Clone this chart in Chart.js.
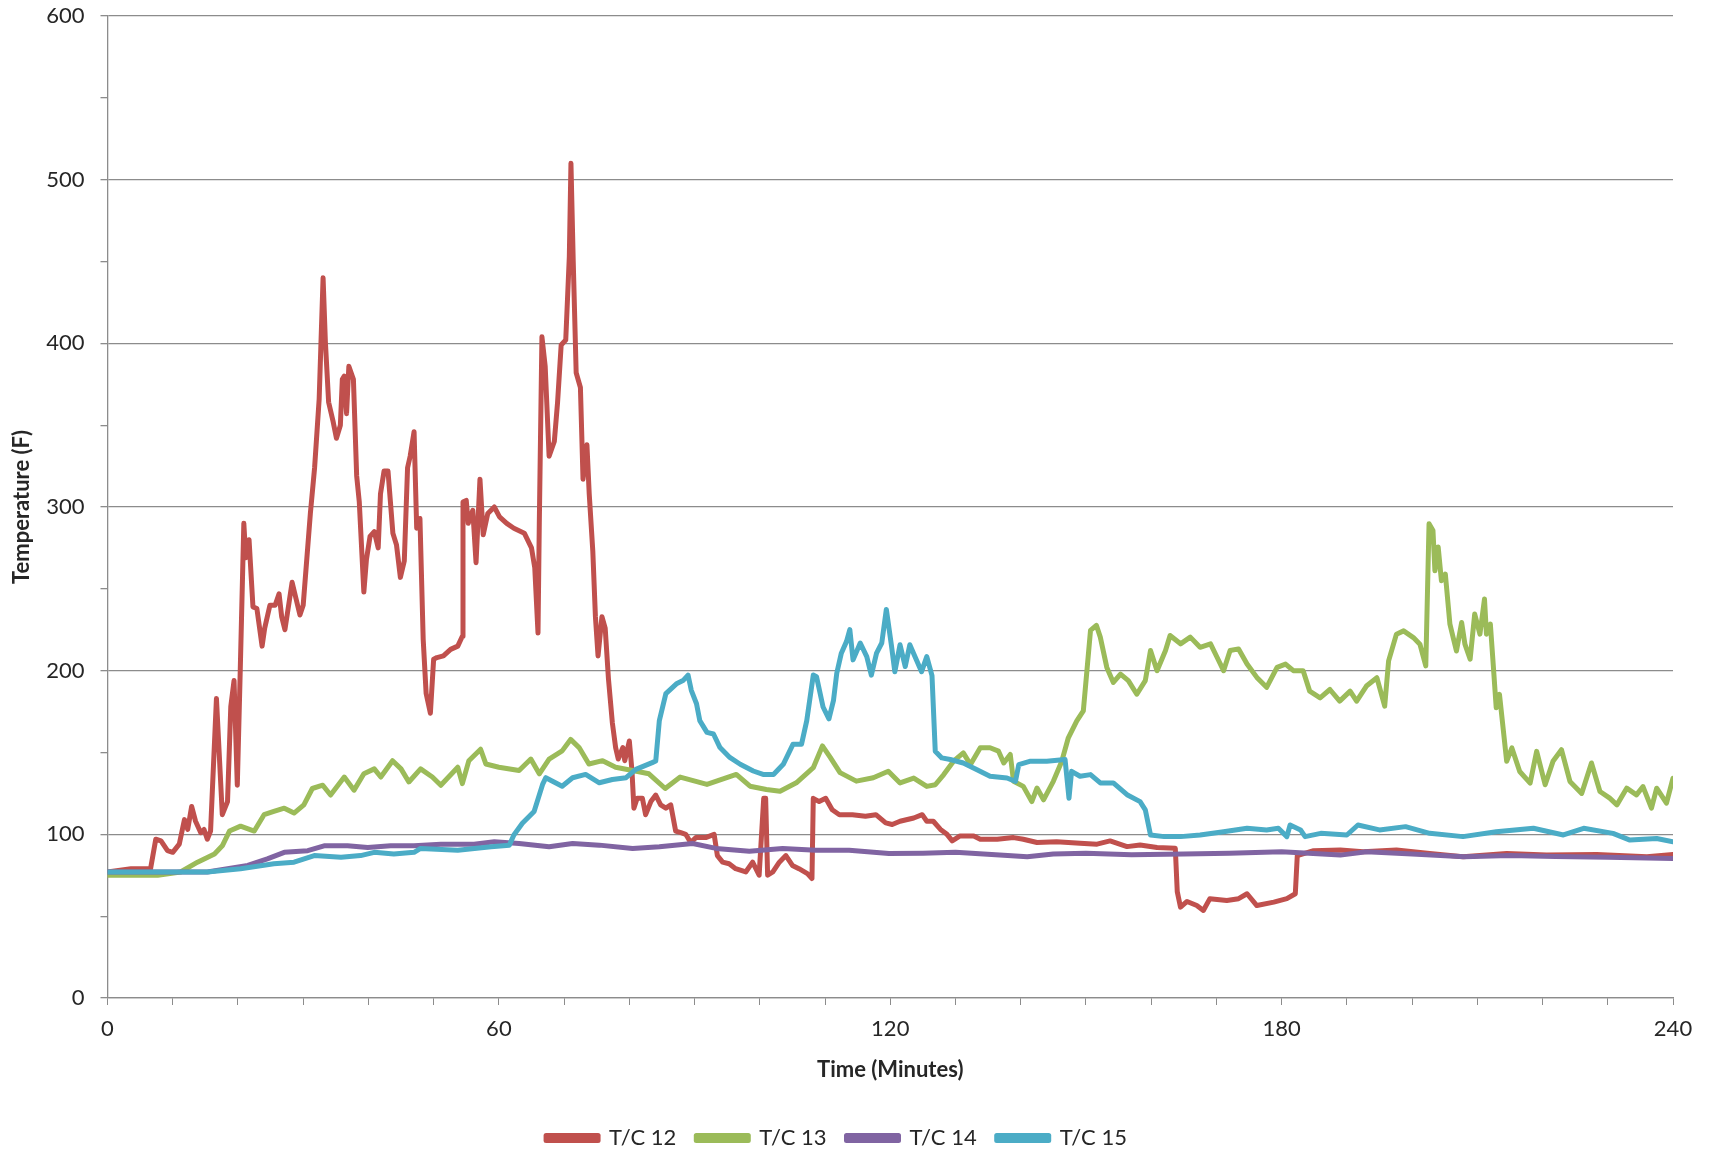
<!DOCTYPE html>
<html>
<head>
<meta charset="utf-8">
<title>T/C 12-15 Temperature</title>
<script src="https://cdn.jsdelivr.net/npm/chart.js@4"></script>
<style>
  html, body { margin: 0; padding: 0; background: #fff; }
  #wrap { width: 1712px; height: 1153px; position: relative; }
</style>
</head>
<body>
<div id="wrap"><canvas id="chart"></canvas></div>
<script>
// values (minutes, deg F)
const seriesNames = ['T/C 12', 'T/C 13', 'T/C 14', 'T/C 15'];
const seriesColors = ['#C0504D', '#9BBB59', '#8064A2', '#4BACC6'];

const tc12Minutes = [0, 3.6, 6.6, 7.4, 8.2, 9.2, 10, 11, 11.8, 12.3, 12.9, 13.5, 14.3, 14.8, 15.3, 15.8, 16.7, 17.6, 18.4, 18.9, 19.4, 19.9, 20.35, 20.9, 21.2, 21.7, 22.3, 22.9, 23.7, 24.1, 24.9, 25.7, 26.3, 26.7, 27.2, 28.3, 29.5, 30, 31.1, 31.75, 32.45, 32.7, 33.05, 33.4, 33.9, 34.6, 35.1, 35.7, 36, 36.3, 36.65, 37, 37.7, 38.2, 38.6, 39.3, 39.7, 40.25, 40.9, 41.5, 41.85, 42.4, 43, 43.75, 44.3, 44.9, 45.5, 46, 46.4, 47, 47.4, 47.9, 48.4, 48.85, 49.5, 50, 50.5, 51.5, 52.6, 53.7, 54.4, 54.5, 55, 55.3, 56, 56.5, 57.1, 57.6, 58.3, 59.3, 60.1, 61.2, 62.3, 63.9, 65, 65.5, 66, 66.2, 66.6, 67.1, 67.7, 68.5, 69, 69.55, 70.25, 70.8, 71.05, 71.4, 71.85, 72.5, 72.9, 73.5, 73.85, 74.4, 74.8, 75.2, 75.8, 76.3, 76.8, 77.4, 77.9, 78.3, 79, 79.3, 80, 80.4, 80.7, 81.2, 82, 82.5, 83.3, 84.05, 84.8, 85.6, 86.35, 87.1, 87.9, 88.65, 89.4, 90.2, 91.7, 93, 93.5, 94.3, 95.3, 96.3, 97.85, 98.9, 99.9, 100.6, 100.9, 101.2, 102, 103, 104, 105, 106, 107.3, 108, 108.2, 109.1, 110.1, 111.1, 112.2, 114.2, 116.2, 117.8, 119.3, 120.3, 121.5, 123.6, 124.9, 125.6, 126.6, 127.7, 128.7, 129.5, 130.7, 132.8, 133.8, 136.4, 138.9, 140.4, 142.5, 145.5, 149.1, 151.7, 153.7, 156.3, 158.3, 160.9, 163.7, 164, 164.5, 165.5, 167, 168, 169, 171.6, 173.4, 174.7, 176.2, 178.8, 180.8, 182.1, 182.4, 184.9, 189, 192.5, 197.6, 202.7, 207.8, 214.5, 220.6, 228.3, 236, 240];
const tc12Temps = [77, 79, 79, 97, 96, 90, 89, 94, 109, 103, 117, 108, 101, 103, 97, 102, 183, 112, 120, 178, 194, 130, 200, 290, 269, 280, 239, 238, 215, 226, 240, 240, 247, 233, 225, 254, 234, 240, 296, 324, 366, 397, 440, 401, 364, 352, 342, 350, 378, 380, 357, 386, 378, 319, 303, 248, 268, 282, 285, 275, 308, 322, 322, 284, 277, 257, 267, 324, 331, 346, 287, 293, 219, 186, 174, 207, 208, 209, 213, 215, 221, 303, 304, 290, 298, 266, 317, 283, 296, 300, 294, 290, 287, 284, 275, 263, 223, 291, 404, 386, 331, 340, 364, 399, 402, 453, 510, 450, 382, 373, 317, 338, 308, 273, 233, 209, 233, 226, 195, 168, 153, 146, 153, 145, 157, 139, 116, 122, 122, 112, 120, 124, 118, 116, 118, 102, 101, 100, 95, 98, 98, 100, 87, 83, 82, 79, 77, 83, 75, 122, 122, 75, 77, 83, 87, 81, 79, 76, 73, 122, 120, 122, 115, 112, 112, 111, 112, 107, 106, 108, 110, 112, 108, 108, 103, 100, 96, 99, 99, 97, 97, 98, 97, 95, 95.5, 94.5, 94, 96, 92.5, 93.5, 92, 91.5, 65, 55.5, 59, 56.5, 53.5, 60.7, 59.6, 60.7, 63.7, 56.5, 58.6, 60.7, 63.7, 87, 90, 90.4, 89.4, 90.4, 88.3, 86.3, 88.3, 87.3, 87.7, 86.3, 87.7];

const tc13Minutes = [0, 7.7, 11.2, 13.8, 16.4, 17.6, 18.7, 20.4, 22.5, 24, 25.5, 27.1, 28.6, 30.1, 31.4, 33, 34.2, 36.3, 37.8, 39.3, 40.9, 41.9, 43.7, 45, 46.2, 48, 49.8, 51.1, 53.7, 54.4, 55.4, 57.2, 58, 60, 63.1, 64.9, 66.2, 67.7, 69.7, 71, 72.3, 73.8, 75.9, 77.9, 80.5, 83, 85.5, 87.8, 91.9, 96.4, 98.5, 101, 103.1, 105.6, 108.2, 109.6, 110.8, 112.3, 114.8, 117.4, 119.7, 121.5, 123.6, 125.6, 126.9, 128.2, 129.7, 131.2, 132.3, 133.8, 135.3, 136.6, 137.4, 138.4, 138.9, 140.4, 141.7, 142.5, 143.5, 145, 146.3, 147.3, 148.6, 149.6, 150.7, 151.6, 152.2, 153.2, 154.2, 155.3, 156.5, 157.8, 159.1, 159.9, 160.9, 162.2, 162.9, 164.5, 166, 167.5, 169.1, 170.1, 171.1, 172.1, 173.4, 174.7, 176.2, 177.7, 179.3, 180.6, 181.8, 183.3, 184.3, 185.9, 187.4, 188.9, 190.5, 191.5, 193, 194.6, 195.8, 196.4, 197.6, 198.7, 200.2, 201.2, 202.1, 202.6, 203.2, 203.5, 204, 204.5, 205.1, 205.8, 206.8, 207.6, 208.1, 208.9, 209.6, 210.4, 211.1, 211.4, 212, 212.4, 212.9, 213.4, 214.5, 215.3, 216.5, 218.1, 219.1, 220.4, 221.6, 222.9, 224.2, 226, 227.5, 228.8, 230.3, 231.4, 232.9, 234.4, 235.4, 236.7, 237.5, 239, 240];
const tc13Temps = [75, 75, 77, 83, 88, 93, 102, 105, 102, 112, 114, 116, 113, 118, 128, 130, 124, 135, 127, 137, 140, 135, 145, 140, 132, 140, 135, 130, 141, 131, 145, 152, 143, 141, 139, 146, 137, 146, 151, 158, 153, 143, 145, 141, 139, 137, 128, 135, 130.5, 136.6, 129.4, 127.4, 126.3, 131.5, 140.7, 154, 147, 137.7, 132.5, 134.6, 138.5, 131.4, 134.4, 129.3, 130.3, 136.5, 144.7, 149.8, 142.6, 152.9, 152.9, 150.8, 143.6, 148.8, 132.4, 129.3, 120, 128.3, 121.1, 132.4, 144.7, 159, 169.3, 175.4, 224.6, 227.7, 220.5, 202, 192.8, 197.9, 193.9, 185.6, 193.9, 212.3, 200, 212.3, 221.5, 216.4, 220.5, 214.3, 216.4, 208.2, 200, 212.3, 213.3, 204.1, 195.9, 189.8, 202, 204, 200, 200, 187.5, 183.4, 188.5, 181.4, 187.5, 181.4, 190.6, 195.7, 178.3, 206, 222.3, 224.3, 220.2, 216.2, 202.9, 289.8, 285.7, 261, 275.5, 255, 259, 228.4, 212, 229.4, 216.2, 207, 234.6, 222.3, 243.8, 222.3, 228.4, 206, 177.3, 185.5, 144.6, 152.8, 138.4, 131.3, 150.7, 130.3, 144.6, 151.7, 132.3, 125, 143.6, 126.2, 122.1, 118, 128.2, 124.1, 129.2, 116, 128.2, 119, 134.3];

const tc14Minutes = [0, 15.3, 21.5, 24.5, 27.1, 30.7, 33.2, 36.8, 39.9, 43.4, 47, 51.1, 56.2, 59.3, 63.1, 67.7, 71.3, 75.4, 80.5, 84.6, 89.7, 93.3, 98.4, 103.5, 108.6, 113.7, 119.8, 125, 130, 138, 141, 145, 150, 157, 165, 172, 180, 189, 193, 200, 208, 215, 222, 230, 236, 240];
const tc14Temps = [77, 77, 81, 85, 89, 90, 93, 93, 92, 93, 93, 94, 94, 95.5, 94.4, 92.4, 94.4, 93.4, 91.4, 92.4, 94.4, 91.4, 89.7, 91.4, 90.3, 90.3, 88.3, 88.5, 89, 87, 86.3, 88, 88.5, 87.5, 88, 88.5, 89.4, 87.3, 89.4, 88, 86.3, 87, 86.5, 86, 85.5, 85.3];

const tc15Minutes = [0, 15.3, 20.4, 25.5, 28.6, 31.7, 35.8, 38.8, 40.9, 43.9, 47, 48, 53.7, 58.8, 61.6, 62.3, 63.6, 65.4, 66.7, 67.2, 69.7, 71.3, 73.3, 75.4, 77.4, 79.5, 81, 83.5, 84.05, 84.6, 85.6, 87.3, 88.3, 89, 89.5, 90.3, 90.8, 91.9, 92.9, 93.9, 95.4, 97, 99, 100.5, 102.1, 103.6, 105.1, 106.4, 107.2, 108.2, 108.7, 109.7, 110.6, 111.3, 111.8, 112.5, 113.3, 113.8, 114.3, 115.4, 116.4, 117.1, 117.9, 118.7, 119.4, 120.2, 120.7, 121.5, 122.3, 123, 124, 124.8, 125.6, 126.4, 126.9, 127.9, 129.2, 131.2, 133.3, 135.3, 137.9, 139.2, 139.7, 141.5, 144, 146.8, 147.4, 147.8, 149.1, 150.7, 152.2, 154.2, 156.3, 158.3, 159.1, 159.9, 162, 164.5, 167.5, 171.1, 174.7, 177.7, 179.5, 180.8, 181.3, 182.9, 183.6, 186, 190, 191.7, 195, 199, 202.7, 207.8, 212.9, 218.6, 223.2, 226.3, 230.8, 233.4, 237.5, 240];
const tc15Temps = [77, 77, 79, 82, 83, 87, 86, 87, 89, 88, 89, 91.4, 90.3, 92.4, 93.4, 99.6, 106.8, 114, 130.5, 134.6, 129.4, 134.6, 136.6, 131.5, 133.5, 134.6, 139.7, 143.8, 144.8, 169.5, 186, 192.2, 194.2, 197.3, 188, 179.8, 169.5, 162.3, 161.3, 153, 147, 142.8, 138.7, 136.6, 136.6, 142.8, 155.1, 155.1, 169.5, 197.3, 196.3, 177.8, 170.6, 181.9, 198.4, 210.7, 217.9, 225.1, 206.6, 216.9, 208.6, 197.3, 210.7, 216.9, 237.4, 214.8, 199.4, 215.8, 202.5, 215.8, 206.6, 199.4, 208.6, 197, 150.8, 146.7, 145.7, 143.6, 139.5, 135.5, 134.4, 132.4, 142.6, 144.7, 144.7, 145.7, 122.1, 138.5, 135.5, 136.5, 131.4, 131.4, 124.2, 120, 115, 99.6, 98.6, 98.6, 99.6, 101.6, 103.7, 102.7, 103.7, 98.6, 105.7, 102.7, 98.6, 100.6, 99.6, 105.7, 102.7, 104.7, 100.6, 98.6, 101.6, 103.7, 99.6, 103.7, 100.6, 96.5, 97.5, 95.5];

const allMinutes = [tc12Minutes, tc13Minutes, tc14Minutes, tc15Minutes];
const allTemps = [tc12Temps, tc13Temps, tc14Temps, tc15Temps];

const gridGrey = '#8c8c8c';
const textColor = '#262626';

const datasets = seriesNames.map((name, i) => ({
  label: name,
  data: allMinutes[i].map((t, j) => ({ x: t, y: allTemps[i][j] })),
  borderColor: seriesColors[i],
  backgroundColor: seriesColors[i],
  borderWidth: 5,
  pointRadius: 0,
  tension: 0,
  borderCapStyle: 'round',
  borderJoinStyle: 'round',
  order: 3 - i, // excel draws later series on top
}));

new Chart(document.getElementById('chart'), {
  type: 'line',
  data: { datasets },
  options: {
    responsive: true,
    maintainAspectRatio: false,
    animation: false,
    layout: { padding: { left: 0, right: 39, top: 0, bottom: -6 } },
    plugins: {
      legend: {
        position: 'bottom',
        labels: {
          boxWidth: 52,
          boxHeight: 5,
          padding: 20,
          color: textColor,
          font: { family: 'Lato', size: 22 },
          sort: (a, b) => a.datasetIndex - b.datasetIndex,
        },
      },
      tooltip: { enabled: false },
    },
    scales: {
      x: {
        type: 'linear',
        min: 0,
        max: 240,
        afterFit: s => { s.height = 109; },
        ticks: {
          stepSize: 10,
          autoSkip: false,
          maxRotation: 0,
          padding: 11,
          color: textColor,
          font: { family: 'Lato', size: 22 },
          callback: v => (v % 60 === 0 ? v : ''),
        },
        grid: { drawOnChartArea: false, tickColor: gridGrey, tickLength: 7 },
        border: { color: gridGrey, width: 1.3 },
        title: {
          display: true,
          text: 'Time (Minutes)',
          color: textColor,
          font: { family: 'Lato', size: 22, weight: 'bold' },
          padding: { top: 0, bottom: 24 },
        },
      },
      y: {
        min: 0,
        max: 600,
        afterFit: s => { s.width = 107.5; s.paddingTop = 16; },
        ticks: {
          stepSize: 50,
          padding: 16,
          color: textColor,
          font: { family: 'Lato', size: 22 },
          callback: v => (v % 100 === 0 ? v : ''),
        },
        grid: {
          color: ctx => (ctx.tick && ctx.tick.value % 100 === 0 ? gridGrey : 'rgba(0,0,0,0)'),
          lineWidth: 1.3,
          tickColor: gridGrey,
          tickLength: 7,
        },
        border: { color: gridGrey, width: 1.3 },
        title: {
          display: true,
          text: 'Temperature (F)',
          color: textColor,
          font: { family: 'Lato', size: 22, weight: 'bold' },
          padding: { top: 9, bottom: 0 },
        },
      },
    },
  },
});
</script>
</body>
</html>
